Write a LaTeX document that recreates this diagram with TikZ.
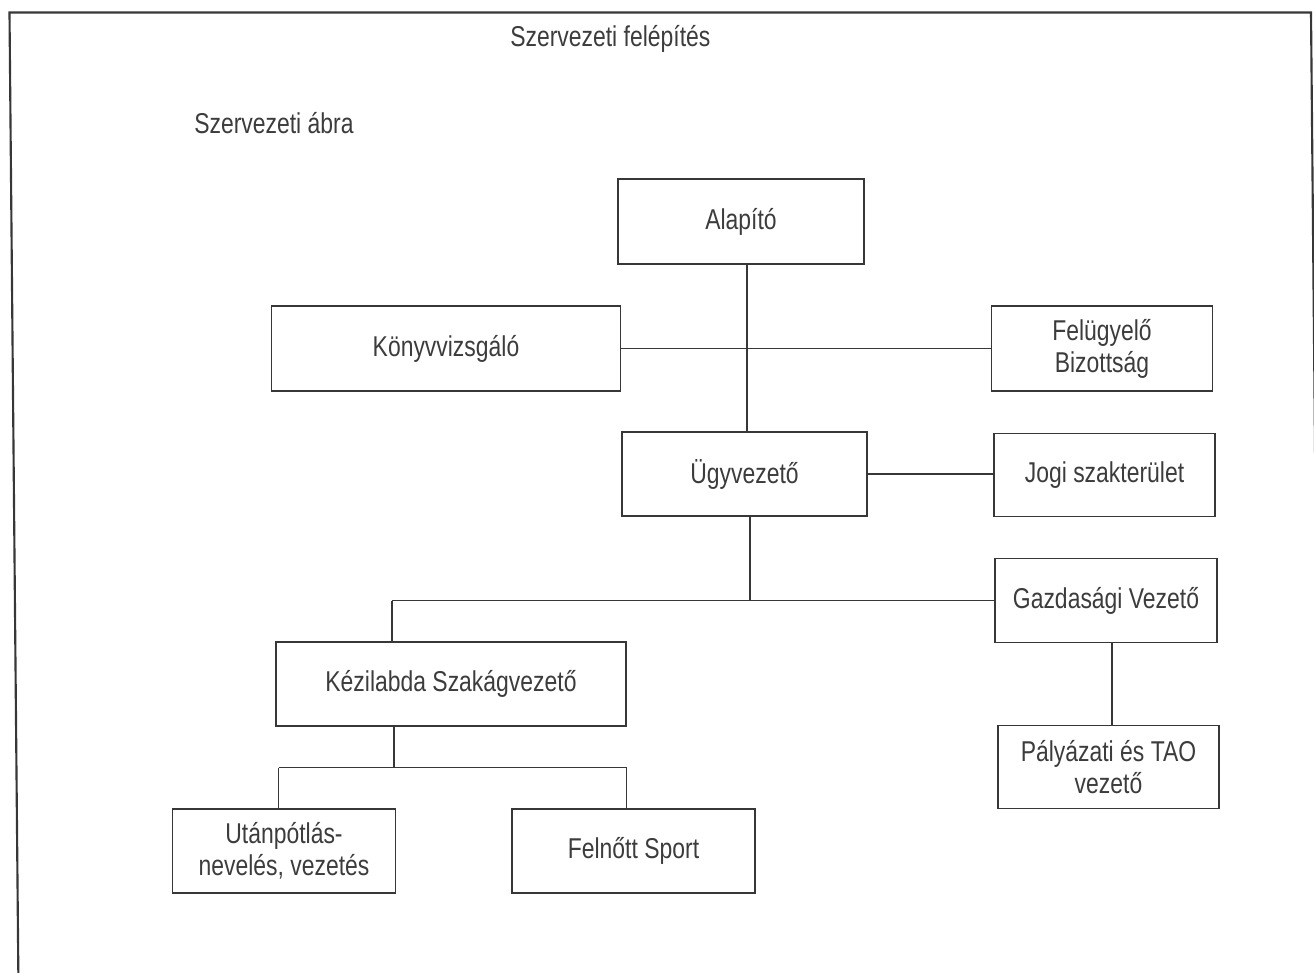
\documentclass[tikz,border=0pt]{standalone}
\usepackage{fontspec}
\setmainfont{Liberation Sans}[FakeStretch=0.8]
\usepackage{tikz}
\usetikzlibrary{calc}
\definecolor{linegray}{RGB}{55,55,55}
\definecolor{textgray}{RGB}{60,60,60}

\begin{document}
\begin{tikzpicture}[x=0.75pt,y=0.75pt,yscale=-1,xscale=1,
    box/.style={draw=linegray,line width=1.1pt,align=center,text=textgray,inner sep=0pt,
      font=\fontsize{21.5}{24}\selectfont},
    boxsize/.style 2 args={minimum width=#1*0.75pt,minimum height=#2*0.75pt},
    link/.style={draw=linegray,line width=1.1pt},
    caption/.style={text=textgray,inner sep=0.75pt,font=\fontsize{21.5}{24}\selectfont}]
                \useasboundingbox (0,0) rectangle (1314,972);
                
                %Frame 
                \draw [color=linegray,line width=1.6pt] (18.5,990) -- (9.5,12.5) -- (1311,12.5) -- (1320,990) ;
                
                % Text Node
                \node [caption,anchor=base west] (title) at (509,46.5) {Szervezeti felépítés};
                % Text Node
                \node [caption,anchor=base west] (subtitle) at (193,133) {Szervezeti ábra};
                
                %Boxes 
                \node [box,boxsize={246}{85}] (alapito) at (741,221.5) {Alapító};
                \node [box,boxsize={349}{85}] (konyv) at (446,348.5) {Könyvvizsgáló};
                \node [box,boxsize={221}{85}] (felugyelo) at (1102,348.5) {Felügyelő\\Bizottság};
                \node [box,boxsize={245}{84}] (ugyvezeto) at (744.5,474) {Ügyvezető};
                \node [box,boxsize={221}{83}] (jogi) at (1104.5,475) {Jogi szakterület};
                \node [box,boxsize={222}{84}] (gazdasagi) at (1106,600.5) {Gazdasági Vezető};
                \node [box,boxsize={221}{83}] (palyazati) at (1108.5,767) {Pályázati és TAO\\vezető};
                \node [box,boxsize={350}{84}] (kezilabda) at (451,684) {Kézilabda Szakágvezető};
                \node [box,boxsize={223}{84}] (utanpotlas) at (284,851) {Utánpótlás-\\nevelés, vezetés};
                \node [box,boxsize={243}{84}] (felnott) at (633.5,851) {Felnőtt Sport};
                
                %Junctions 
                \coordinate (branch) at (750,600.5);
                \coordinate (kezitop) at (392,600.5);
                \coordinate (kezibot) at (394,767.7);
                \coordinate (utanfork) at (278.6,767.7);
                \coordinate (felnfork) at (626.7,767.7);
                
                %Straight Lines 
                \draw [link] ([xshift=4.5pt]alapito.south) -- ([xshift=4.5pt]alapito.south |- ugyvezeto.north) ;
                \draw [link] (konyv.east) -- (felugyelo.west) ;
                \draw [link] (ugyvezeto.east) -- (ugyvezeto.east -| jogi.west) ;
                \draw [link] (branch |- ugyvezeto.south) -- (branch) ;
                \draw [link] (kezitop) -- (gazdasagi.west) ;
                \draw [link] (kezitop) -- (kezitop |- kezilabda.north) ;
                \draw [link] (gazdasagi.south -| 1112,0) -- (palyazati.north -| 1112,0) ;
                \draw [link] (kezibot |- kezilabda.south) -- (kezibot) ;
                \draw [link] (utanfork) -- (felnfork) ;
                \draw [link] (utanfork) -- (utanfork |- utanpotlas.north) ;
                \draw [link] (felnfork) -- (felnfork |- felnott.north) ;
\end{tikzpicture}
\end{document}
